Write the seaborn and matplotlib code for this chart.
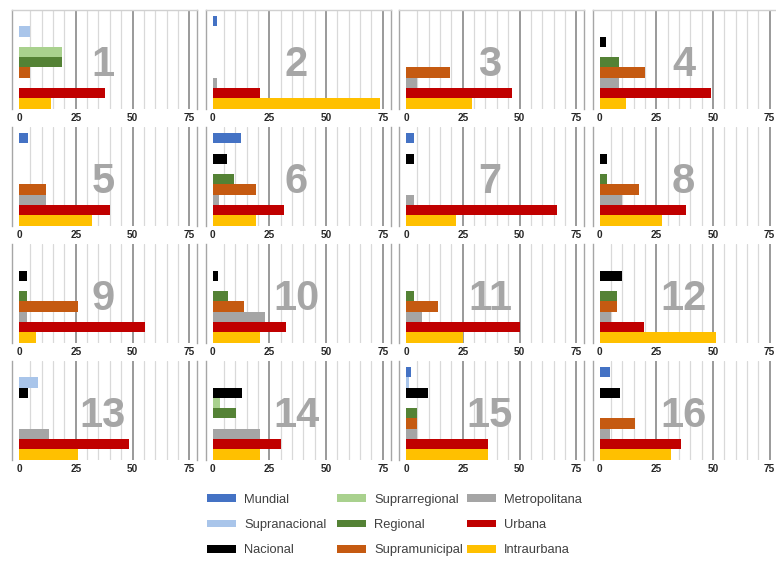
import numpy as np
import pandas as pd
import matplotlib
matplotlib.use("Agg")
import matplotlib.pyplot as plt
import seaborn as sns
from matplotlib.patches import Patch

# Territorial scales, top to bottom in every panel
escalas = ["Mundial", "Supranacional", "Nacional", "Suprarregional", "Regional",
           "Supramunicipal", "Metropolitana", "Urbana", "Intraurbana"]
colores = ["#4472C4", "#A9C5EA", "#000000", "#A9D18E", "#548235",
           "#C55A11", "#A5A5A5", "#C00000", "#FFC000"]

# Values (%) per panel, in the order of `escalas`
p1 = [0, 5, 0, 19, 19, 5, 0, 38, 14]
p2 = [2, 0, 0, 0, 0, 0, 2, 21, 74]
p3 = [0, 0, 0, 0, 0, 19.5, 5, 46.5, 29]
p4 = [0, 0, 3, 0, 8.5, 20, 8.5, 49, 11.5]
p5 = [4, 0, 0, 0, 0, 12, 12, 40, 32]
p6 = [12.5, 0, 6.5, 0, 9.5, 19, 3, 31.5, 19]
p7 = [3.5, 0, 3.5, 0, 0, 0, 3.5, 66.5, 22]
p8 = [0, 0, 3.5, 0, 3.5, 17.5, 10, 38, 27.5]
p9 = [0, 0, 3.5, 0, 3.5, 26, 3.5, 55.5, 7.5]
p10 = [0, 0, 2.5, 0, 7, 14, 23, 32.5, 21]
p11 = [0, 0, 0, 0, 3.5, 14, 7, 50, 25]
p12 = [0, 0, 10, 0, 7.5, 7.5, 5, 19.5, 51.5]
p13 = [0, 8.5, 4, 0, 0, 0, 13, 48.5, 26]
p14 = [0, 0, 13, 3.5, 10.5, 0, 21, 30, 21]
p15 = [2, 1.5, 9.5, 0, 5, 5, 5, 36, 36]
p16 = [4.5, 0, 9, 0, 0, 15.5, 4.5, 36, 31.5]
paneles = [p1, p2, p3, p4, p5, p6, p7, p8, p9, p10, p11, p12, p13, p14, p15, p16]
rotulos = [str(i) for i in range(1, 17)]
ticks_x = [0, 25, 50, 75]

paleta = dict(zip(escalas, colores))
FONT = ["Liberation Sans", "DejaVu Sans"]

sns.set_theme(style="white")
plt.rcParams["font.family"] = FONT

W, H = 776, 563
fig = plt.figure(figsize=(W / 100, H / 100), dpi=100)

PX = 2.27          # pixels per unit on the x axis
XMIN, XMAX = -3, 78.5

for i, vals in enumerate(paneles):
    r, c = divmod(i, 4)
    x0 = 19 + 193.5 * c
    left = x0 + XMIN * PX
    width = (XMAX - XMIN) * PX
    top = 10 + 117 * r
    bottom = 108.5 + 117 * r
    ax = fig.add_axes([left / W, 1 - bottom / H, width / W, (bottom - top) / H])

    df = pd.DataFrame({"escala": escalas, "valor": vals})
    sns.barplot(data=df, x="valor", y="escala", hue="escala", palette=paleta,
                order=escalas, hue_order=escalas, width=1.0, legend=False,
                saturation=1, linewidth=0, ax=ax, zorder=3)

    ax.set_xlim(XMIN, XMAX)
    ax.set_ylim(8.5, -1.1)
    ax.set_xlabel("")
    ax.set_ylabel("")
    ax.set_yticks([])
    ax.set_xticks(ticks_x)
    ax.set_xticks(np.arange(5, 75, 5), minor=True)
    ax.grid(False)
    ax.grid(axis="x", which="minor", color="#d9d9d9", lw=0.9, zorder=0)
    ax.grid(axis="x", which="major", color="#7f7f7f", lw=1.1, zorder=0)
    ax.xaxis.get_gridlines()[0].set_visible(False)
    ax.set_axisbelow(True)
    ax.tick_params(axis="x", which="both", length=0, pad=3.5, labelsize=7.2,
                   labelcolor="#262626")
    for lab in ax.get_xticklabels():
        lab.set_fontweight("bold")

    for side in ["left", "right"]:
        ax.spines[side].set_visible(True)
        ax.spines[side].set_color("#a6a6a6")
        ax.spines[side].set_linewidth(1.0)
    ax.spines["bottom"].set_visible(False)
    if r == 0:
        ax.spines["top"].set_visible(True)
        ax.spines["top"].set_color("#d0d0d0")
        ax.spines["top"].set_linewidth(1.0)
    else:
        ax.spines["top"].set_visible(False)

    ax.text(37, 4.3, rotulos[i], ha="center", va="center", fontsize=30,
            fontweight="bold", color="#a6a6a6", family=FONT, zorder=4)

# Legend in three columns
col_x = [207, 337, 467]
for k in range(3):
    handles = [Patch(facecolor=colores[j], edgecolor="none") for j in range(3 * k, 3 * k + 3)]
    labels = escalas[3 * k:3 * k + 3]
    fig.legend(handles, labels, loc="center left",
               bbox_to_anchor=(col_x[k] / W, 1 - 525 / H),
               frameon=False, handlelength=2.25, handleheight=0.56,
               handletextpad=0.62, labelspacing=1.02, borderpad=0, borderaxespad=0,
               labelcolor="#404040", prop={"family": FONT, "size": 9.3})

fig.savefig("out.png", dpi=100)
